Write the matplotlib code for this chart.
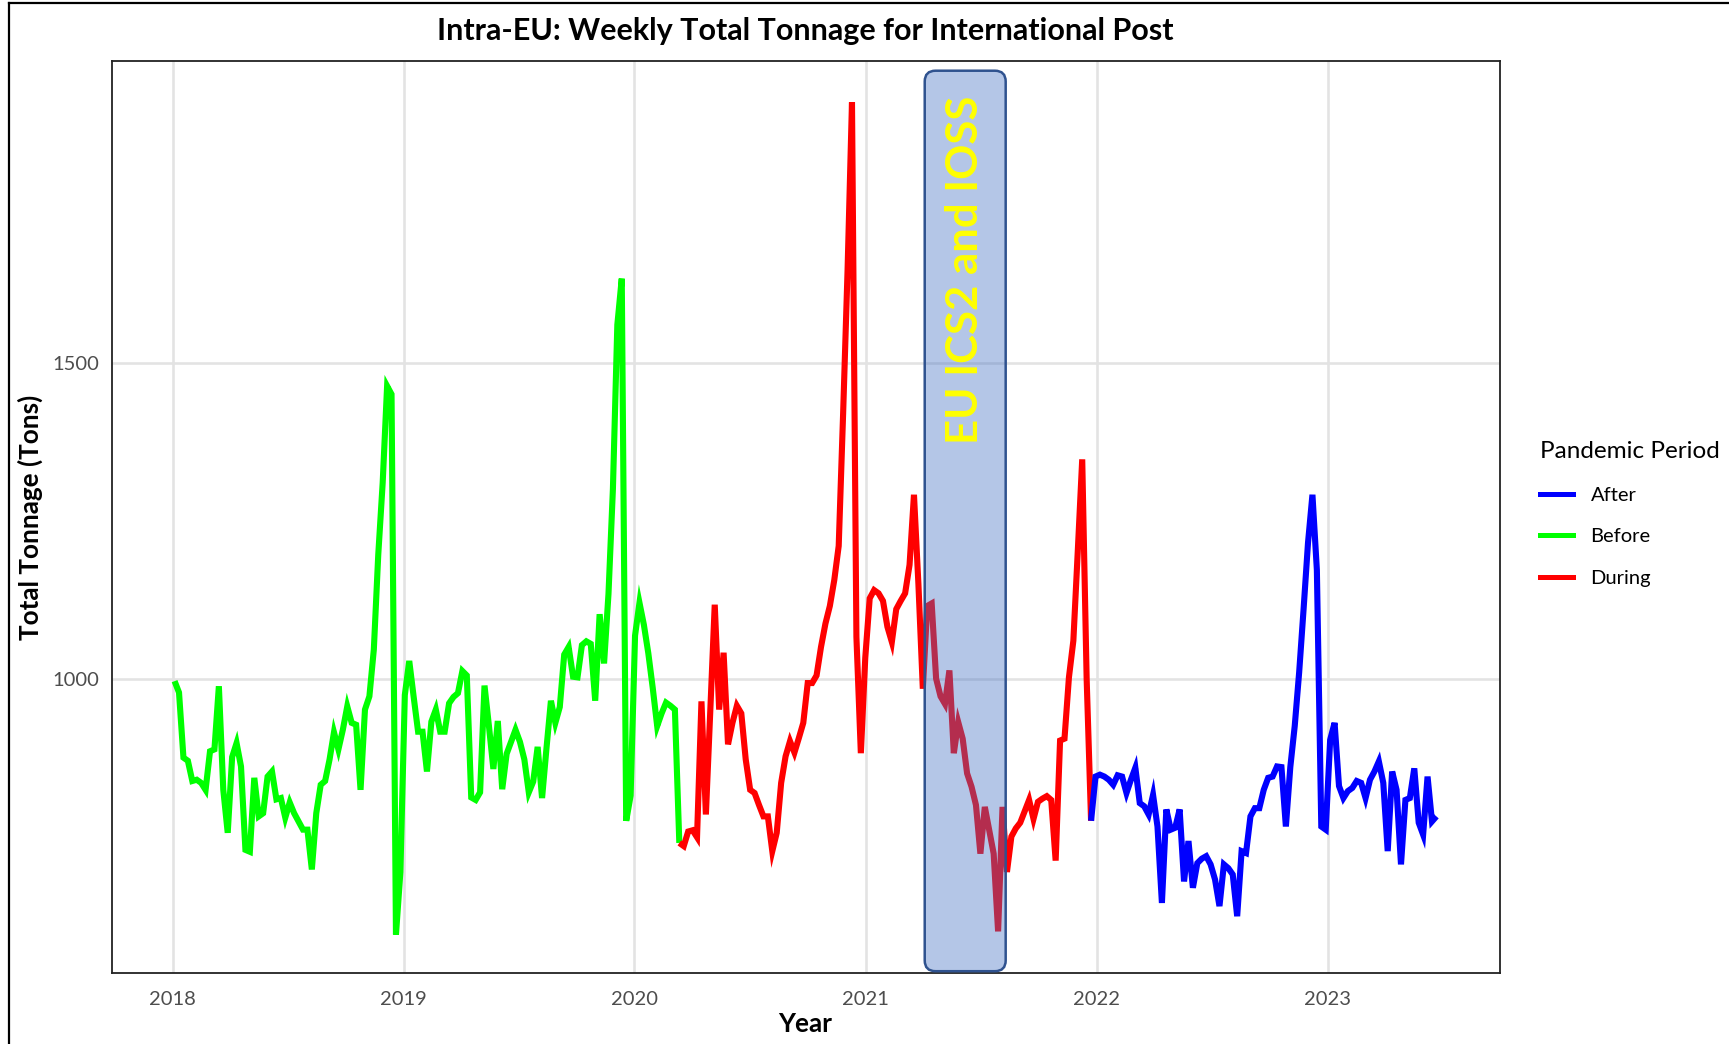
import matplotlib
matplotlib.use("Agg")
import matplotlib.pyplot as plt
import matplotlib.dates as mdates
from matplotlib.patches import FancyBboxPatch
from matplotlib.lines import Line2D
import numpy as np
import pandas as pd

# ---------------- data (weekly) ----------------
start_date = "2018-01-04"

before_tonnage = [
    996, 978, 875, 870, 838, 840, 835, 824, 885, 888, 988, 824, 756, 876, 898, 861,
    729, 726, 843, 782, 787, 845, 853, 809, 811, 780, 804, 787, 774, 761, 761, 698,
    787, 832, 838, 872, 915, 888, 919, 956, 930, 927, 824, 951, 972, 1046, 1196, 1310,
    1463, 1450, 595, 694, 974, 1028, 971, 916, 916, 853, 932, 951, 916, 916, 961, 971,
    977, 1012, 1005, 812, 808, 820, 989, 925, 857, 933, 825, 881, 900, 919, 900, 872,
    820, 837, 892, 811, 890, 965, 930, 955, 1038, 1050, 1003, 1002, 1053, 1059, 1055, 965,
    1102, 1024, 1134, 1300, 1560, 1633, 775, 815, 1068, 1120, 1085, 1040, 985, 925, 945, 962,
    957, 951,
]
during_tonnage = [
    740, 735, 758, 760, 749, 964, 785, 950, 1117, 951, 1041, 896, 930, 957, 945, 872,
    824, 819, 800, 782, 782, 727, 756, 835, 877, 901, 883, 906, 930, 993, 993, 1005,
    1050, 1087, 1115, 1156, 1210, 1420, 1646, 1912, 1066, 882, 1033, 1127, 1140, 1135, 1123, 1082,
    1058, 1110, 1123, 1135, 1180, 1291, 1150, 984, 1115, 1119, 1000, 972, 960, 1013, 882, 931,
    905, 850, 829, 800, 723, 797, 760, 723, 600, 797, 694, 750, 763, 772, 790, 808,
    778, 805, 810, 814, 808, 712, 902, 905, 1002, 1060, 1202, 1347, 1000,
]
after_tonnage = [
    775, 845, 848, 845, 840, 832, 847, 845, 819, 840, 859, 803, 798, 785, 816, 766,
    645, 793, 761, 764, 793, 679, 743, 669, 708, 715, 719, 706, 682, 640, 706, 700,
    690, 624, 727, 724, 782, 795, 795, 824, 843, 845, 861, 860, 766, 860, 925, 1010,
    1110, 1215, 1291, 1172, 766, 761, 903, 930, 830, 811, 822, 827, 838, 835, 811, 840,
    853, 869, 835, 727, 853, 824, 706, 808, 811, 858, 772, 753, 845, 774, 782,
]

periods = ["Before", "During", "After"]
period_colors = {"After": "#0000FF", "Before": "#00FF00", "During": "#FF0000"}
legend_order = ["After", "Before", "During"]

y_ticks = [1000, 1500]
x_tick_years = [2018, 2019, 2020, 2021, 2022, 2023]

box_start, box_end = "2021-04-04", "2021-08-10"
box_label = "EU ICS2 and IOSS"

title = "Intra-EU: Weekly Total Tonnage for International Post"
x_title = "Year"
y_title = "Total Tonnage (Tons)"
legend_title = "Pandemic Period"

# ---------------- assemble ----------------
series = {"Before": before_tonnage, "During": during_tonnage, "After": after_tonnage}
values = before_tonnage + during_tonnage + after_tonnage
dates = pd.date_range(start_date, periods=len(values), freq="7D")
labels = sum([[p] * len(series[p]) for p in periods], [])
df = pd.DataFrame({"date": dates, "tonnage": values, "period": labels})

W, H = 1729, 1044
fig = plt.figure(figsize=(W / 100, H / 100), dpi=100)
fig.patch.set_facecolor("white")

L, R, T, B = 111.5, 1499.5, 60.7, 973.0
ax = fig.add_axes([L / W, 1 - B / H, (R - L) / W, (B - T) / H])

FONT = ["Lato", "DejaVu Sans"]

# lines: each segment coloured by its starting point's period
idx = 0
for p in periods:
    n = len(series[p])
    end = min(idx + n + 1, len(df))
    seg = df.iloc[idx:end]
    ax.plot(seg["date"], seg["tonnage"], color=period_colors[p], lw=4.4,
            solid_joinstyle="miter", solid_capstyle="butt", zorder=3)
    idx += n

# axes limits like ggplot expansion
dnum = mdates.date2num(df["date"])
xr = dnum.max() - dnum.min()
ax.set_xlim(dnum.min() - 0.05 * xr, dnum.max() + 0.05 * xr)
yr = max(values) - min(values)
ax.set_ylim(min(values) - 0.05 * yr + 5, max(values) + 0.05 * yr)

ax.set_xticks([mdates.date2num(pd.Timestamp(f"{y}-01-01")) for y in x_tick_years])
ax.set_xticklabels([str(y) for y in x_tick_years])
ax.set_yticks(y_ticks)
ax.set_yticklabels([str(v) for v in y_ticks])
ax.tick_params(axis="both", length=0, labelsize=14.5, labelcolor="#4D4D4D")
ax.tick_params(axis="x", pad=13)
ax.tick_params(axis="y", pad=8.5)
for lab in ax.get_xticklabels() + ax.get_yticklabels():
    lab.set_family(FONT)

ax.grid(True, color="#E3E3E3", lw=1.9, zorder=0)
ax.set_axisbelow(True)
for s in ax.spines.values():
    s.set_color("#222222")
    s.set_linewidth(1.3)

# shaded annotation box
bx0 = mdates.date2num(pd.Timestamp(box_start))
bx1 = mdates.date2num(pd.Timestamp(box_end))
by0, by1 = 537, 1962
box = FancyBboxPatch((bx0, by0), bx1 - bx0, by1 - by0,
                     boxstyle="round,pad=0,rounding_size=17",
                     facecolor=(0.267, 0.447, 0.769, 0.40),
                     edgecolor="#2F528F", lw=1.8, zorder=4)
ax.add_patch(box)
ax.text((bx0 + bx1) / 2, 1647, box_label, rotation=90, ha="center", va="center",
        color="#FFFF00", fontsize=31.5, fontweight="bold",
        family=["Lato", "DejaVu Sans"], zorder=5)

# titles
fig.text(805 / W, 1 - 31 / H, title, ha="center", va="center",
         fontsize=22, fontweight="bold", family=FONT)
fig.text(805 / W, 1 - 1024 / H, x_title, ha="center", va="center",
         fontsize=18.8, fontweight="bold", family=FONT)
fig.text(30 / W, 1 - 517 / H, y_title, ha="center", va="center", rotation=90,
         fontsize=18.8, fontweight="bold", family=FONT)

# legend
handles = [Line2D([0], [0], color=period_colors[p], lw=3.6) for p in legend_order]
leg = fig.legend(handles, legend_order, title=legend_title, loc="upper left",
                 bbox_to_anchor=(1540 / W, 1 - 441.5 / H), frameon=False,
                 prop={"family": FONT, "size": 14.5},
                 title_fontproperties={"family": FONT, "size": 17.5},
                 handlelength=1.64, handletextpad=0.87, labelspacing=1.21,
                 borderpad=0, borderaxespad=0)
leg._legend_box.align = "left"

# figure frame (top and left edges visible in reference)
fig.add_artist(Line2D([9 / W, 1], [1 - 2.5 / H, 1 - 2.5 / H], transform=fig.transFigure,
                      color="black", lw=1.6))
fig.add_artist(Line2D([9 / W, 9 / W], [0, 1 - 2.5 / H], transform=fig.transFigure,
                      color="black", lw=1.6))

fig.savefig("out.png", dpi=100)
